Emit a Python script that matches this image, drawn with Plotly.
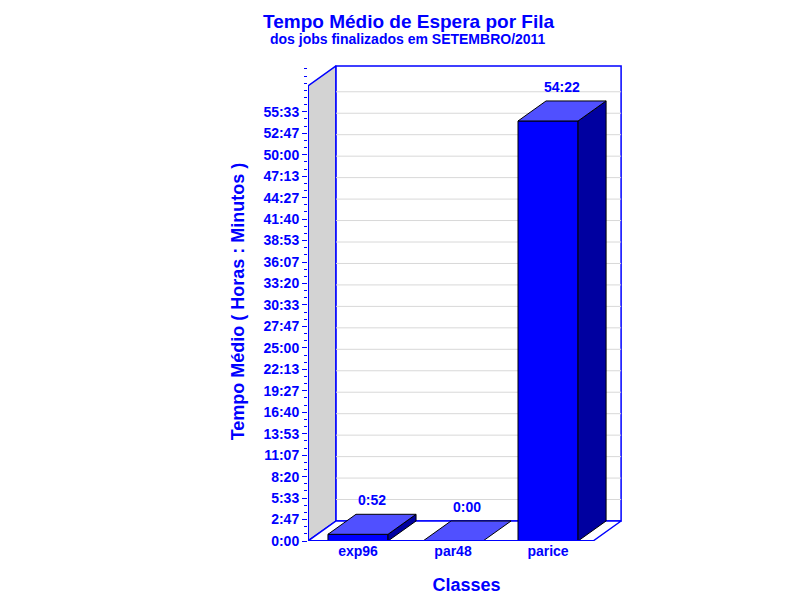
import plotly.graph_objects as go

categories = ["exp96", "par48", "parice"]
values_h = [52/60, 0.0, 54 + 22/60]
value_labels = ["0:52", "0:00", "54:22"]
tick_vals = [i * 166.6667 / 60 for i in range(21)]
tick_text = ["%d:%02d" % (int(round(v*60)) // 60, int(round(v*60)) % 60) for v in tick_vals]

BLUE = "#0000ff"
FONT = "Liberation Sans"
x0, x1, top = -0.526, 2.474, 58.9
dx, dy = 0.295, 2.59
hw = 0.316
fig = go.Figure()

def poly(xs, ys, fill, line="#0000ff", w=1.5):
    fig.add_trace(go.Scatter(x=xs + [xs[0]], y=ys + [ys[0]], mode="lines", fill="toself",
                             fillcolor=fill, line=dict(color=line, width=w),
                             hoverinfo="skip", showlegend=False))

poly([x0, x0+dx, x0+dx, x0], [0, dy, top+dy, top], "#d3d3d3")
poly([x0+dx, x1+dx, x1+dx, x0+dx], [dy, dy, top+dy, top+dy], "white")
for t in tick_vals[1:]:
    fig.add_trace(go.Scatter(x=[x0+dx, x1+dx], y=[t+dy, t+dy], mode="lines",
                             line=dict(color="#d8d8d8", width=1), hoverinfo="skip", showlegend=False))
poly([x0, x1, x1+dx, x0+dx], [0, 0, dy, dy], "white")

for i, v in enumerate(values_h):
    a, b = i - hw, i + hw
    if v > 0:
        poly([a, b, b, a], [0, 0, v, v], BLUE, "black", 1)
        poly([b, b+dx, b+dx, b], [0, dy, v+dy, v], "#0000a0", "black", 1)
    poly([a, b, b+dx, a+dx], [v, v, v+dy, v+dy], "#5050ff", "black", 1)
    fig.add_annotation(x=i+dx/2, y=v+dy, text=value_labels[i], showarrow=False, yshift=14,
                       font=dict(size=14, color=BLUE, family=FONT, weight="bold"))

fig.add_trace(go.Scatter(x=[x0, x0, x1], y=[top, 0, 0], mode="lines",
                         line=dict(color=BLUE, width=2), hoverinfo="skip", showlegend=False))

fig.update_layout(
    width=800, height=600, plot_bgcolor="white", paper_bgcolor="white",
    margin=dict(l=300, r=183, t=54, b=67, autoexpand=False),
    font=dict(family=FONT, color=BLUE, size=14),
    xaxis=dict(range=[x0, 2.81], tickvals=[0, 1, 2], ticktext=categories, showgrid=False,
               zeroline=False, showline=False, ticks="", automargin=False,
               tickfont=dict(size=14, color=BLUE, family=FONT, weight="bold"),
               title=dict(text="Classes", font=dict(size=18, color=BLUE, weight="bold"), standoff=20)),
    yaxis=dict(range=[0, 62.0], tickvals=tick_vals, ticktext=tick_text, showgrid=False,
               zeroline=False, showline=False, ticks="outside", ticklen=5, tickcolor=BLUE,
               automargin=False, minor=dict(dtick=tick_vals[1]/3, ticks="outside", ticklen=3, tickcolor=BLUE),
               tickfont=dict(size=14, color=BLUE, family=FONT, weight="bold"),
               title=dict(text="Tempo Médio ( Horas : Minutos )", font=dict(size=18, color=BLUE, weight="bold"), standoff=14)),
)
fig.add_annotation(text="Tempo Médio de Espera por Fila", xref="paper", yref="paper",
                   x=(400-300)/317, y=(533-13)/479, showarrow=False, xanchor="center", yanchor="middle",
                   font=dict(size=19, color=BLUE, weight="bold"))
fig.add_annotation(text="dos jobs finalizados em SETEMBRO/2011", xref="paper", yref="paper",
                   x=(400-300)/317, y=(533-31)/479, showarrow=False, xanchor="center", yanchor="middle",
                   font=dict(size=14, color=BLUE, weight="bold"))
fig.write_html("out.html")
